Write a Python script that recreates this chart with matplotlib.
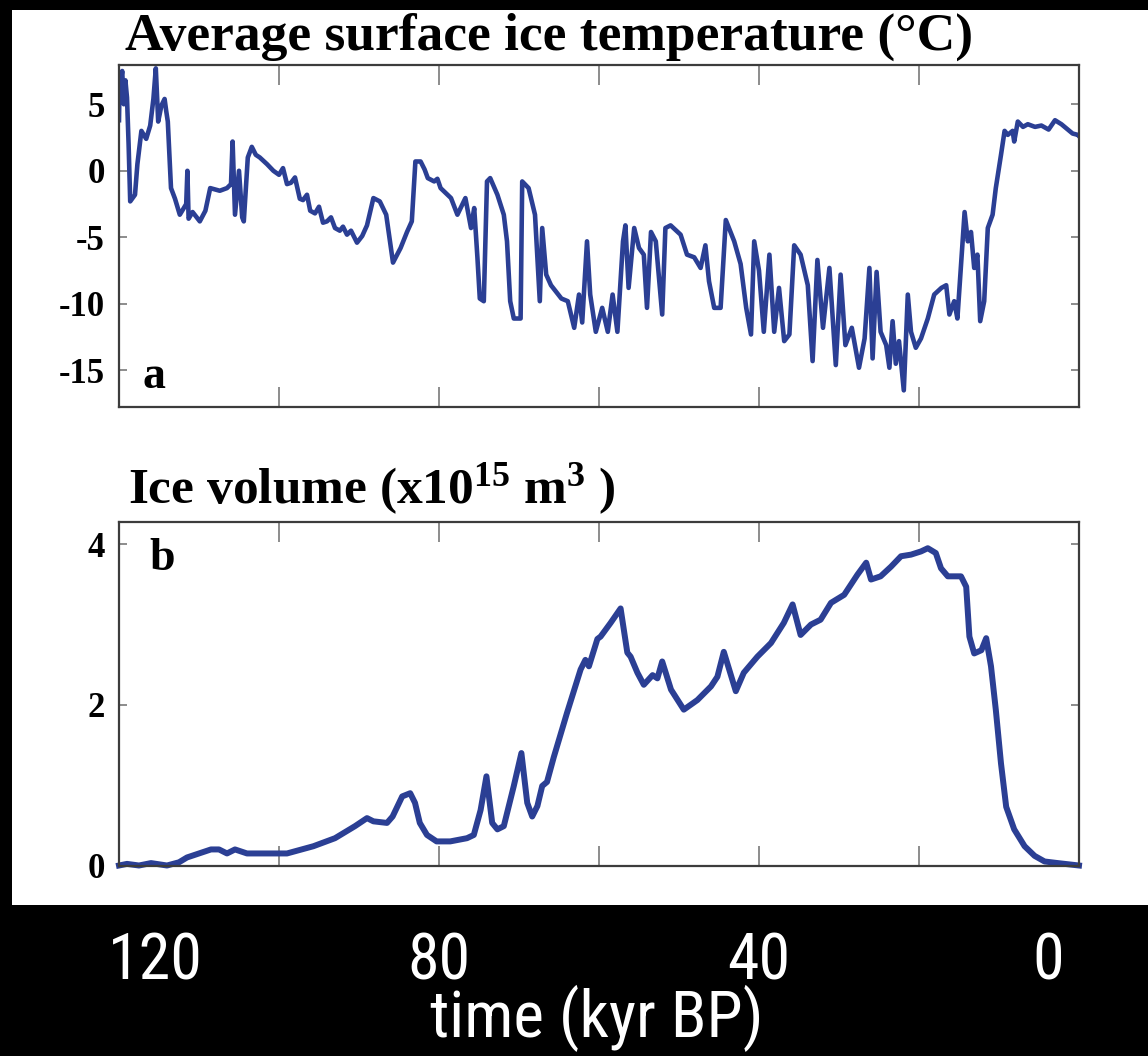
import matplotlib
matplotlib.use("Agg")
import matplotlib.pyplot as plt
from matplotlib.patches import Rectangle
from matplotlib.transforms import blended_transform_factory

# ---------------- data ----------------
# (a) average surface ice temperature, degC, against time in kyr BP
temp_time = [
    120.0, 119.9, 119.75, 119.6, 119.4, 119.2, 119.0, 118.8, 118.6,
    118.0, 117.7, 117.2, 116.6, 116.1, 115.7, 115.4, 115.1, 114.7, 114.3,
    114.1, 113.9, 113.5, 113.0, 112.4, 111.6, 111.45, 111.3, 110.8, 109.9,
    109.2, 108.6, 107.4, 106.5, 106.0, 105.8, 105.5, 105.0, 104.6, 104.4,
    103.9, 103.4, 102.9, 102.4, 101.5, 100.7, 100.0, 99.5, 99.0, 98.5,
    98.0, 97.4, 97.0, 96.5, 96.1, 95.5, 95.0, 94.5, 94.0, 93.5,
    93.0, 92.4, 92.0, 91.5, 91.0, 90.25, 89.6, 89.0, 88.2, 87.4,
    86.6, 85.75, 84.8, 84.0, 83.4, 82.95, 82.3, 81.8, 81.4, 80.6,
    80.2, 79.8, 78.5, 77.7, 76.7, 76.0, 75.6, 75.2, 74.9, 74.4,
    74.0, 73.6, 72.7, 71.9, 71.5, 71.1, 70.65, 69.8, 69.6, 68.8,
    68.0, 67.4, 67.1, 66.6, 66.0, 64.7, 63.9, 63.1, 62.5, 62.1,
    61.5, 61.1, 60.4, 59.6, 58.9, 58.3, 57.7, 57.0, 56.7, 56.3,
    55.6, 55.0, 54.4, 54.0, 53.5, 52.9, 52.1, 51.7, 51.05, 49.8,
    49.0, 48.1, 47.3, 46.7, 46.25, 45.6, 44.8, 44.15, 43.1, 42.3,
    41.6, 41.0, 40.6, 40.0, 39.4, 38.7, 38.1, 37.5, 36.85, 36.2,
    35.6, 34.8, 33.9, 33.3, 32.7, 32.0, 31.2, 30.4, 29.8, 29.2,
    28.4, 27.5, 26.8, 26.2, 25.8, 25.3, 24.8, 24.1, 23.7, 23.3,
    22.9, 22.5, 21.9, 21.4, 21.0, 20.4, 19.75, 18.9, 18.1, 17.2,
    16.6, 16.2, 15.6, 15.2, 14.3, 13.9, 13.5, 13.1, 12.7, 12.35,
    11.85, 11.4, 10.8, 10.4, 9.75, 9.3, 8.9, 8.3, 8.1, 7.65,
    7.0, 6.4, 5.5, 4.7, 3.8, 3.0, 2.2, 1.4, 0.8, 0.15, 0.0,
]
temp_value = [
    3.8, 7.4, 6.8, 7.5, 5.0, 6.8, 5.5, 2.0, -2.3,
    -1.8, 0.5, 3.0, 2.4, 3.4, 5.4, 7.7, 3.7, 4.9, 5.4,
    4.5, 3.7, -1.3, -2.1, -3.3, -2.5, 0.0, -3.6, -3.1, -3.8,
    -3.0, -1.3, -1.5, -1.3, -1.0, 2.2, -3.3, 0.0, -3.5, -3.8,
    1.0, 1.8, 1.2, 1.0, 0.5, 0.0, -0.3, 0.2, -1.0, -0.9,
    -0.5, -2.1, -2.2, -1.8, -3.0, -3.2, -2.7, -3.9, -3.8, -3.5,
    -4.3, -4.5, -4.2, -4.8, -4.5, -5.4, -4.9, -4.1, -2.05, -2.3,
    -3.3, -6.9, -5.8, -4.6, -3.8, 0.7, 0.7, 0.1, -0.55, -0.8,
    -0.6, -1.3, -2.05, -3.3, -2.05, -4.3, -2.8, -6.5, -9.6, -9.8,
    -0.8, -0.55, -1.8, -3.3, -5.3, -9.8, -11.1, -11.1, -0.8, -1.3,
    -3.3, -9.8, -4.3, -7.8, -8.6, -9.6, -9.8, -11.8, -9.3, -11.4,
    -5.3, -9.3, -12.1, -10.3, -12.1, -9.3, -12.1, -5.3, -4.1, -8.8,
    -4.3, -5.8, -6.3, -10.3, -4.6, -5.3, -10.8, -4.3, -4.1, -4.8,
    -6.3, -6.5, -7.3, -5.6, -8.3, -10.3, -10.3, -3.7, -5.3, -7.0,
    -10.3, -12.3, -5.3, -7.5, -12.1, -6.3, -12.1, -8.8, -12.8, -12.3,
    -5.6, -6.3, -8.6, -14.3, -6.7, -11.8, -7.3, -14.6, -7.8, -13.1,
    -11.8, -14.8, -12.6, -7.3, -14.1, -7.6, -12.1, -13.1, -14.8, -11.3,
    -14.5, -12.8, -16.5, -9.3, -12.1, -13.3, -12.6, -11.1, -9.3, -8.8,
    -8.6, -10.8, -9.8, -11.1, -3.1, -5.3, -4.6, -7.3, -6.3, -11.3,
    -9.8, -4.3, -3.3, -1.3, 1.2, 3.0, 2.7, 3.0, 2.2, 3.7,
    3.3, 3.5, 3.3, 3.4, 3.1, 3.8, 3.5, 3.1, 2.8, 2.7, 2.6,
]

# (b) ice volume, 10^15 m^3, against time in kyr BP
vol_time = [
    120.0, 119.0, 117.5, 116.0, 114.0, 112.5, 111.5, 110.0, 108.5, 107.5,
    106.5, 105.5, 104.0, 101.5, 99.0, 95.7, 93.0, 90.5, 89.0, 88.2,
    86.5, 85.8, 84.6, 83.6, 83.0, 82.4, 81.5, 80.3, 78.6, 76.5,
    75.65, 74.8, 74.07, 73.35, 72.7, 71.9, 70.65, 69.7, 68.97, 68.35,
    67.7, 67.1, 66.5, 65.65, 64.0, 62.3, 61.7, 61.26, 60.2, 59.8,
    58.55, 57.3, 56.46, 56.05, 55.2, 54.4, 53.3, 52.7, 52.1, 51.0,
    49.4, 47.7, 46.0, 45.2, 44.4, 42.9, 41.9, 40.2, 38.5, 36.9,
    35.8, 34.8, 33.5, 32.3, 31.0, 29.35, 27.7, 26.6, 26.0, 24.8,
    23.5, 22.25, 21.0, 19.75, 18.9, 17.9, 17.25, 16.4, 14.75, 14.1,
    13.7, 13.1, 12.2, 11.6, 11.0, 10.4, 9.75, 9.1, 8.1, 6.8,
    5.55, 4.3, 2.65, 0.0,
]
vol_value = [
    0.0, 0.02, 0.0, 0.03, 0.0, 0.04, 0.1, 0.15, 0.2, 0.2,
    0.15, 0.2, 0.15, 0.15, 0.15, 0.24, 0.34, 0.49, 0.59, 0.55,
    0.53, 0.61, 0.86, 0.9, 0.78, 0.53, 0.38, 0.30, 0.30, 0.34,
    0.38, 0.69, 1.11, 0.53, 0.45, 0.49, 0.99, 1.4, 0.78, 0.61,
    0.74, 0.99, 1.04, 1.35, 1.9, 2.44, 2.56, 2.48, 2.82, 2.85,
    3.02, 3.2, 2.65, 2.6, 2.40, 2.25, 2.37, 2.33, 2.54, 2.19,
    1.94, 2.06, 2.23, 2.35, 2.66, 2.17, 2.4, 2.6, 2.77, 3.02,
    3.25, 2.87, 3.0, 3.06, 3.27, 3.37, 3.62, 3.77, 3.56, 3.6,
    3.72, 3.85, 3.87, 3.91, 3.95, 3.89, 3.7, 3.6, 3.6, 3.47,
    2.85, 2.64, 2.68, 2.83, 2.48, 1.94, 1.27, 0.73, 0.45, 0.24,
    0.12, 0.05, 0.03, 0.0,
]

x_ticks = [120, 100, 80, 60, 40, 20, 0]
time_labels = ["120", "80", "40", "0"]
time_label_pos = [115.4, 80.0, 40.0, 3.9]
temp_ticks = [-15, -10, -5, 0, 5]
vol_ticks = [0, 2, 4]

# ---------------- styling ----------------
plt.rcParams["mathtext.fontset"] = "custom"
plt.rcParams["mathtext.rm"] = "Liberation Serif:bold"
plt.rcParams["mathtext.it"] = "Liberation Serif:bold"
plt.rcParams["mathtext.bf"] = "Liberation Serif:bold"

SERIF = "Liberation Serif"
SANS_NARROW = ["Roboto Condensed", "Liberation Sans Narrow", "Roboto", "DejaVu Sans"]
LINE = "#2b3f94"
SPINE = "#3c3c3c"
TICK = "#8c8c8c"

W, H = 1148, 1056
fig = plt.figure(figsize=(W / 100, H / 100), dpi=100, facecolor="black")


def fx(px):
    return px / W


def fy(py):
    return 1 - py / H


# white panel behind the two plots
fig.add_artist(Rectangle((fx(12), fy(905)), fx(1148) - fx(12), fy(10) - fy(905),
                         transform=fig.transFigure, facecolor="white",
                         edgecolor="none", zorder=-5))

ax_a = fig.add_axes([fx(119), fy(407), fx(1079) - fx(119), fy(65) - fy(407)])
ax_b = fig.add_axes([fx(119), fy(865.5), fx(1079) - fx(119), fy(521.7) - fy(865.5)])


def style(ax, yticks):
    ax.set_facecolor("white")
    ax.set_xlim(120, 0)
    ax.set_xticks(x_ticks)
    ax.set_xticklabels([])
    ax.set_yticks(yticks, labels=[str(v) for v in yticks],
                  fontfamily=SERIF, fontweight="bold", fontsize=25)
    ax.tick_params(axis="x", direction="in", length=14.5, width=1.4, color=TICK,
                   top=True, bottom=True)
    ax.tick_params(axis="y", direction="in", length=5.5, width=1.4, color=TICK,
                   left=True, right=True, pad=10)
    for s in ax.spines.values():
        s.set_color(SPINE)
        s.set_linewidth(1.6)


style(ax_a, temp_ticks)
style(ax_b, vol_ticks)

ax_a.set_ylim(-17.75, 7.95)
ax_b.set_ylim(0, 4.28)

ax_a.plot(temp_time, temp_value, color=LINE, lw=3.3)
ax_b.plot(vol_time, vol_value, color=LINE, lw=4.3, clip_on=False)

ax_a.text(0.025, 0.056, "a", transform=ax_a.transAxes, fontfamily=SERIF,
          fontweight="bold", fontsize=33, va="baseline")
ax_b.text(0.032, 0.86, "b", transform=ax_b.transAxes, fontfamily=SERIF,
          fontweight="bold", fontsize=33, va="baseline")

fig.text(fx(125), fy(50), "Average surface ice temperature (\u00b0C)",
         fontfamily=SERIF, fontweight="bold", fontsize=38.5, va="baseline")
fig.text(fx(128), fy(503), r"Ice volume (x10$^{15}$ m$^3$ )",
         fontfamily=SERIF, fontweight="bold", fontsize=37, va="baseline")

# time axis labels, drawn in white on the black band below the plots
band = blended_transform_factory(ax_b.transData, fig.transFigure)
for lab, pos in zip(time_labels, time_label_pos):
    ax_b.text(pos, fy(962), lab, transform=band, color="white", ha="center",
              va="center", fontfamily=SANS_NARROW, fontstretch="condensed",
              fontsize=46, clip_on=False)
fig.text(fx(597), fy(1018), "time (kyr BP)", color="white", ha="center",
         va="center", fontfamily=SANS_NARROW, fontstretch="condensed", fontsize=47)

fig.savefig("out.png", dpi=100, facecolor="black")
